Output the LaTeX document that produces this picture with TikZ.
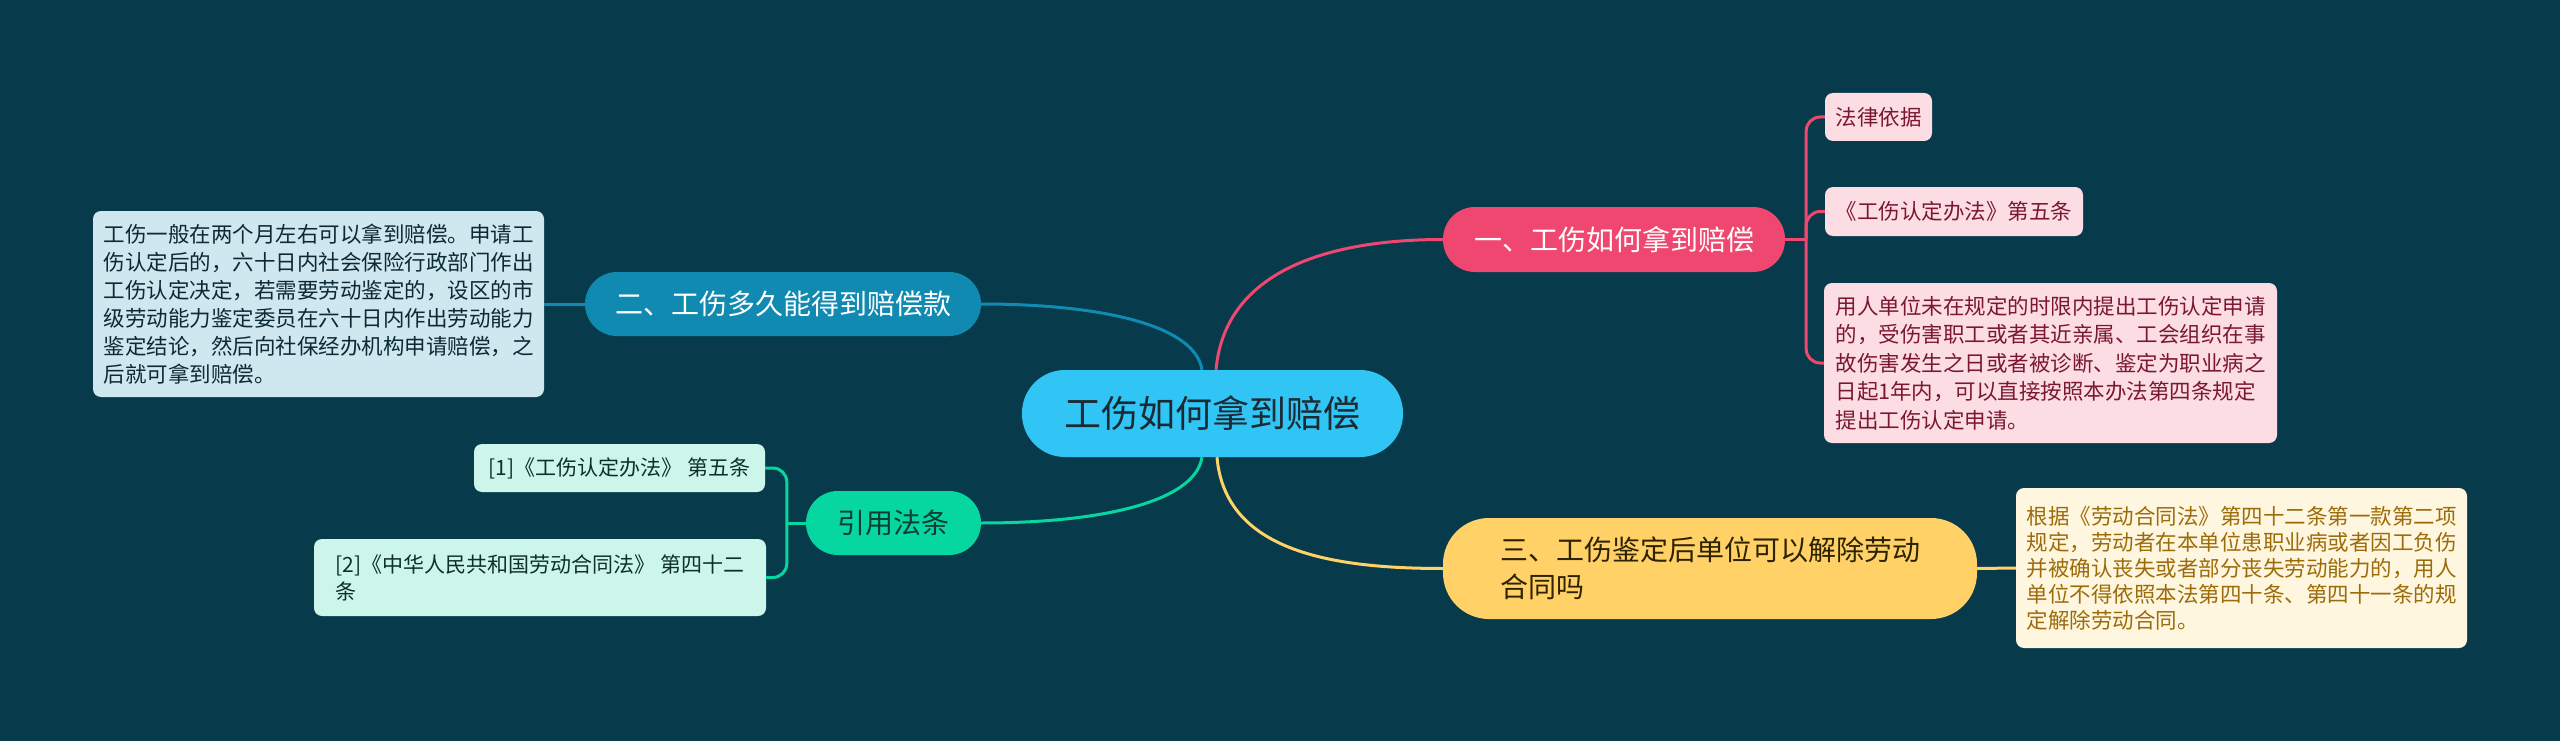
\documentclass[tikz,border=0pt]{standalone}
\usepackage{fontspec}
\newfontfamily\cjk{Noto Sans CJK SC}
\usetikzlibrary{calc}
\definecolor{bg}{HTML}{073B4C}
\definecolor{cpink}{HTML}{EF476F}
\definecolor{cyellow}{HTML}{FFD166}
\definecolor{cgreen}{HTML}{06D6A0}
\definecolor{cblue}{HTML}{118AB2}
\definecolor{ccenter}{HTML}{30C5F5}
\definecolor{lpink}{HTML}{FCDDE4}
\definecolor{lpinktext}{HTML}{7B1830}
\definecolor{lcream}{HTML}{FFF6DF}
\definecolor{lcreamtext}{HTML}{9C6C0A}
\definecolor{lblue}{HTML}{CFE7EF}
\definecolor{lbluetext}{HTML}{0B2A36}
\definecolor{lgreen}{HTML}{CDF6EB}
\definecolor{lgreentext}{HTML}{0F2F2A}
\definecolor{darktext}{HTML}{1C2A33}
\definecolor{ytext}{HTML}{2D2300}
\definecolor{gtext}{HTML}{0E3B34}
\begin{document}
\begin{tikzpicture}[x=1pt,y=-1pt,
  base/.style={inner sep=0pt, align=left},
  centerbox/.style={base, fill=ccenter, text=darktext, rounded corners=43pt,
    font={\cjk\fontsize{37}{44}\selectfont}},
  branchbox/.style={base, rounded corners=32pt, font={\cjk\fontsize{28}{37}\selectfont}},
  leafbox/.style={base, rounded corners=8pt, font={\cjk\fontsize{21.5}{28.5}\selectfont}},
  conn/.style={line width=3pt},
  fork/.style={line width=3pt, rounded corners=14pt}
]
\fill[bg] (0,0) rectangle (2560,741);
\useasboundingbox (0,0) rectangle (2560,741);

% center
\node[centerbox, minimum width=381pt, minimum height=87pt] (c) at (1212.5,413.5) {工伤如何拿到赔偿};

% branches
\node[branchbox, fill=cpink, text=white, minimum width=342pt, minimum height=65pt] (b1) at (1614,239.5) {一、工伤如何拿到赔偿};
\node[branchbox, fill=cblue, text=white, minimum width=396pt, minimum height=64pt] (b2) at (783,304) {二、工伤多久能得到赔偿款};
\node[branchbox, fill=cyellow, text=ytext, rounded corners=46pt, minimum width=534pt, minimum height=101pt] (b3) at (1710,568.5) {三、工伤鉴定后单位可以解除劳动\\合同吗};
\node[branchbox, fill=cgreen, text=gtext, minimum width=175pt, minimum height=64pt] (b4) at (893.5,523) {引用法条};

% leaves of branch 1
\node[leafbox, fill=lpink, text=lpinktext, minimum width=107pt, minimum height=48pt] (l1) at (1878.5,117) {法律依据};
\node[leafbox, fill=lpink, text=lpinktext, minimum width=258pt, minimum height=49pt] (l2) at (1954,211.5) {《工伤认定办法》第五条};
\node[leafbox, fill=lpink, text=lpinktext, minimum width=453pt, minimum height=160pt] (l3) at (2050.5,363) {用人单位未在规定的时限内提出工伤认定申请\\的，受伤害职工或者其近亲属、工会组织在事\\故伤害发生之日或者被诊断、鉴定为职业病之\\日起1年内，可以直接按照本办法第四条规定\\提出工伤认定申请。};

% leaf of branch 2
\node[leafbox, fill=lblue, text=lbluetext, minimum width=451pt, minimum height=186pt, font={\cjk\fontsize{21.5}{28}\selectfont}] (lb) at (318.5,304) {工伤一般在两个月左右可以拿到赔偿。申请工\\伤认定后的，六十日内社会保险行政部门作出\\工伤认定决定，若需要劳动鉴定的，设区的市\\级劳动能力鉴定委员在六十日内作出劳动能力\\鉴定结论，然后向社保经办机构申请赔偿，之\\后就可拿到赔偿。};

% leaf of branch 3
\node[leafbox, fill=lcream, text=lcreamtext, minimum width=451pt, minimum height=160pt, font={\cjk\fontsize{21.5}{26}\selectfont}] (l4) at (2241.5,568) {根据《劳动合同法》第四十二条第一款第二项\\规定，劳动者在本单位患职业病或者因工负伤\\并被确认丧失或者部分丧失劳动能力的，用人\\单位不得依照本法第四十条、第四十一条的规\\定解除劳动合同。};

% leaves of branch 4
\node[leafbox, fill=lgreen, text=lgreentext, minimum width=291pt, minimum height=48pt, font={\cjk\fontsize{21}{27}\selectfont}] (g1) at (619.5,468) {[1]《工伤认定办法》 第五条};
\node[leafbox, fill=lgreen, text=lgreentext, minimum width=452pt, minimum height=77pt, font={\cjk\fontsize{21}{27}\selectfont}] (g2) at (540,577.5) {[2]《中华人民共和国劳动合同法》 第四十二\\条};

% center connectors
\draw[conn, cpink] ([xshift=3.5pt]c.north) .. controls +(9,-100) and +(-113,0) .. (b1.west);
\draw[conn, cblue] ([xshift=-10.5pt]c.north) .. controls +(-7,-45) and +(119,0) .. (b2.east);
\draw[conn, cgreen] ([xshift=-10.5pt]c.south) .. controls +(-7,45) and +(119,0) .. (b4.east);
\draw[conn, cyellow] ([xshift=4.5pt]c.south) .. controls +(8,93) and +(-114,0) .. (b3.west);

% branch 1 fork
\draw[conn, cpink] (b1.east) -- ++(21,0) coordinate (f1);
\draw[fork, cpink] (f1) |- (l1.west);
\draw[fork, cpink] (f1) |- (l2.west);
\draw[fork, cpink] (f1) |- (l3.west);

% branch 2
\draw[conn, cblue] (b2.west) -- (lb.east);

% branch 3
\draw[conn, cyellow] (b3.east) -- (l4.west);

% branch 4 fork
\draw[conn, cgreen] (b4.west) -- ++(-19,0) coordinate (f4);
\draw[fork, cgreen] (f4) |- (g1.east);
\draw[fork, cgreen] (f4) |- (g2.east);
\end{tikzpicture}
\end{document}
